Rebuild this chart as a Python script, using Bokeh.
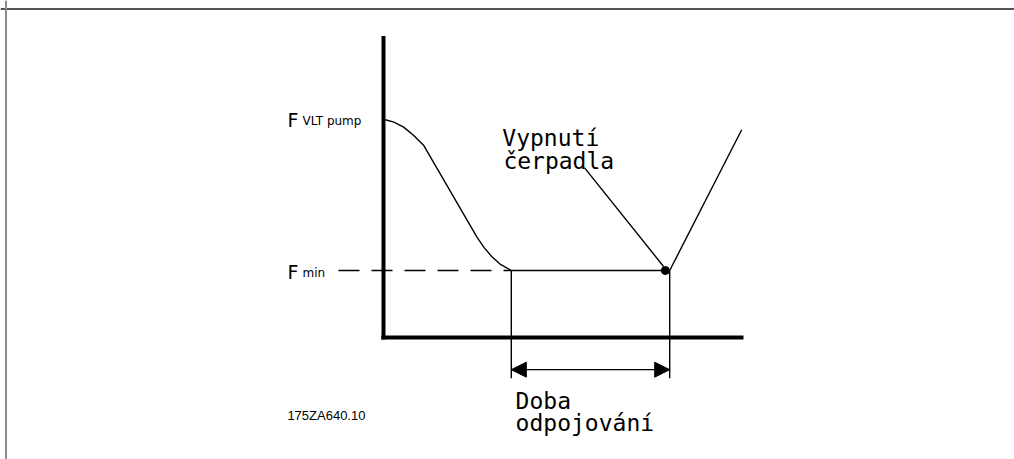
from bokeh.plotting import figure
from bokeh.models import Range1d, Arrow, NormalHead, Span
from bokeh.core.properties import value
from bokeh.embed import file_html
from bokeh.resources import INLINE

# ---- data (time t in arbitrary units, frequency f in arbitrary units) ----
F_MIN = 20.0
F_PUMP = 65.0
T_AXIS_END = 10.0
F_AXIS_END = 90.0

# ramp-down of the output frequency from F_pump to F_min
curve_t = [0.05, 0.29, 0.56, 0.84, 1.12, 2.60, 2.79, 3.02, 3.25, 3.55]
curve_f = [65.0, 64.3, 62.8, 60.3, 57.3, 29.9, 26.9, 24.0, 21.8, 20.0]

T_REACH_MIN = 3.55    # time where F_min is reached
T_STOP = 7.95         # pump switch-off
T_DASH_START = -1.25

rise_t = [7.95, 9.95]
rise_f = [20.0, 62.0]

leader_t = [5.58, 7.78]
leader_f = [50.7, 21.2]

DIM_F_BOTTOM = -12.2  # bottom end of the dimension lines
ARROW_F = -9.6        # level of the dimension arrow

labels = [
    # text, t, f, size, font
    ("F", -2.67, 65.0, "19px", "DejaVu Sans"),
    ("VLT pump", -2.25, 64.6, "12px", "DejaVu Sans"),
    ("F", -2.67, 19.5, "19px", "DejaVu Sans"),
    ("min", -2.25, 19.2, "12px", "DejaVu Sans"),
    ("Vypnutí", 3.30, 59.5, "23px", "DejaVu Sans Mono"),
    ("čerpadla", 3.33, 52.7, "23px", "DejaVu Sans Mono"),
    ("Doba", 3.67, -19.1, "23px", "DejaVu Sans Mono"),
    ("odpojování", 3.67, -25.5, "23px", "DejaVu Sans Mono"),
    ("175ZA640.10", -2.67, -23.3, "13px", "Liberation Sans"),
]

# ---- figure ----
W, H = 1014, 459
ORIGIN_X, ORIGIN_Y = 383.0, 337.0   # pixel position of the diagram origin
PX_T = 36.0      # pixels per time unit
PX_F = 3.35      # pixels per frequency unit
t0 = -ORIGIN_X / PX_T
f1 = ORIGIN_Y / PX_F
x_range = Range1d(t0, t0 + W / PX_T)
y_range = Range1d(f1 - H / PX_F, f1)

p = figure(width=W, height=H, output_backend="svg", toolbar_location=None,
           x_range=x_range, y_range=y_range, x_axis_type=None, y_axis_type=None,
           min_border=0, outline_line_color=None, background_fill_color="white",
           border_fill_color="white")
p.xgrid.visible = False
p.ygrid.visible = False

# frame lines (top and left)
p.add_layout(Span(location=f1 - 8.5 / PX_F, dimension="width", line_color="#1a1a1a", line_width=1.5))
p.add_layout(Span(location=t0 + 5.5 / PX_T, dimension="height", line_color="#8a8a8a", line_width=2))

# diagram axes
p.line([0, 0], [-0.6, F_AXIS_END], line_color="black", line_width=4, line_cap="butt")
p.line([-0.06, T_AXIS_END], [0, 0], line_color="black", line_width=4, line_cap="butt")

LW = 1.4
# ramp curve
p.line(curve_t, curve_f, line_color="black", line_width=LW)
# dashed F_min reference
p.line([T_DASH_START, T_REACH_MIN], [F_MIN, F_MIN], line_color="black", line_width=LW, line_dash="21 12")
# F_min plateau
p.line([T_REACH_MIN, T_STOP], [F_MIN, F_MIN], line_color="black", line_width=LW)
# rise after restart
p.line(rise_t, rise_f, line_color="black", line_width=LW)
# leader line
p.line(leader_t, leader_f, line_color="black", line_width=LW)
# dimension lines
p.line([T_REACH_MIN, T_REACH_MIN], [F_MIN, DIM_F_BOTTOM], line_color="black", line_width=LW)
p.line([T_STOP, T_STOP], [F_MIN, DIM_F_BOTTOM], line_color="black", line_width=LW)
# dot at switch-off
p.scatter([T_STOP - 0.12], [F_MIN], size=8, color="black")

# dimension arrow
p.add_layout(Arrow(x_start=T_REACH_MIN, y_start=ARROW_F, x_end=T_STOP, y_end=ARROW_F,
                   line_color="black", line_width=LW,
                   start=NormalHead(size=15, fill_color="black", line_color="black", line_width=1),
                   end=NormalHead(size=15, fill_color="black", line_color="black", line_width=1)))

for txt, tt, ff, size, font in labels:
    p.text([tt], [ff], text=[txt], text_font=value(font), text_font_size=size,
           text_color="black", text_align="left", text_baseline="alphabetic")

open("out.html", "w").write(file_html(p, INLINE))
